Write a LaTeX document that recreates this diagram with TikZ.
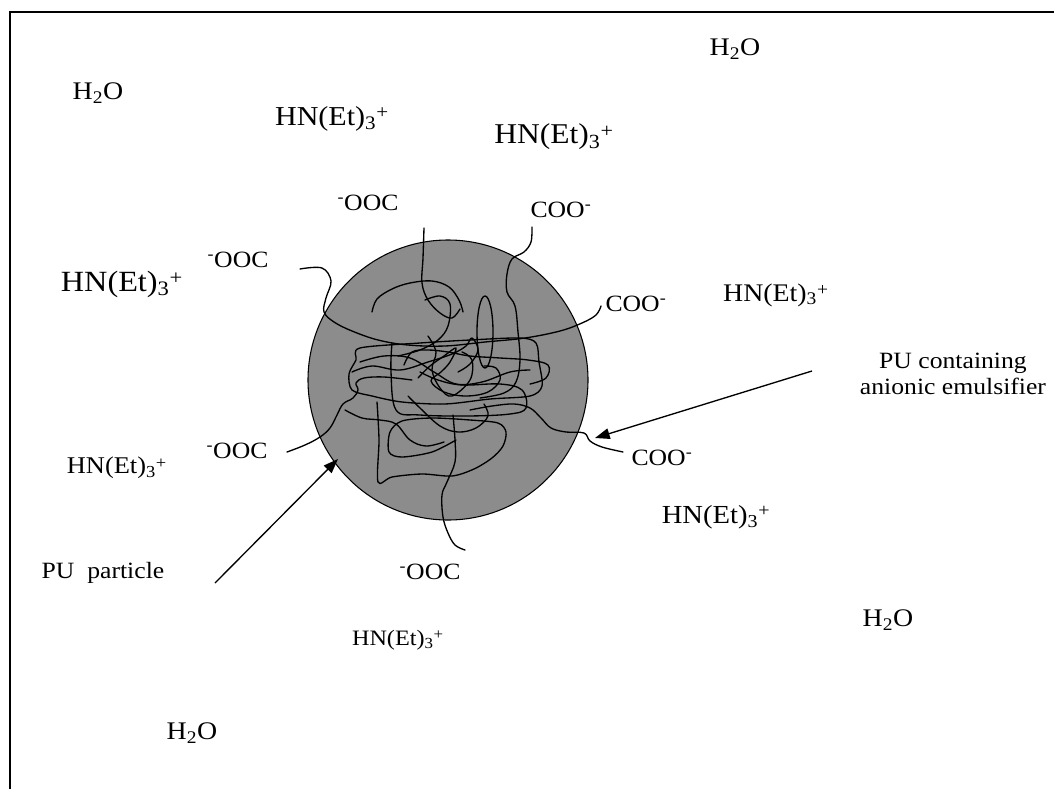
\documentclass[tikz,border=0pt]{standalone}
\usepackage{fontspec}
\setmainfont[FakeStretch=1.1]{Liberation Serif}
\usetikzlibrary{arrows.meta}
\newcommand{\setfs}[1]{\fontsize{#1}{#1}\selectfont}
\newcommand{\amine}{HN(Et)\textsubscript{3}\raisebox{-0.12em}{\textsuperscript{+}}}
\newcommand{\water}{H\textsubscript{2}O}
\newcommand{\carbL}{\textsuperscript{-}OOC}
\newcommand{\carbR}{COO\textsuperscript{-}}
\tikzset{
  lbl/.style={inner sep=0pt, anchor=center, text=black},
  chain/.style={line width=1pt, line join=round, line cap=round},
  pointer/.style={line width=1pt, -{Triangle[length=11pt,width=8pt]}},
  frame/.style={line width=1.3pt},
}
\begin{document}
\begin{tikzpicture}[x=0.75pt,y=-0.75pt]
\useasboundingbox (0,0) rectangle (1054,789);
% frame (top and left edges)
\draw[frame] (10,789) -- (10,12) -- (1054,12);

% the particle
\node (particle) [circle, draw=black, line width=0.8pt, fill={rgb,255:red,140;green,140;blue,140},
  minimum size=210pt, inner sep=0pt] at (448,380) {};

% emulsifier chains leaving the particle
\draw[chain] plot[smooth, tension=0.6] coordinates {(300,269) (322,268) (331,281) (326,298) (324,312) (334,322) (352,331) (378,340) (408,345) (445,346) (485,342) (525,338) (560,331) (582,323) (596,315) (601,306)};
\draw[chain] plot[smooth, tension=0.6] coordinates {(424,228) (423,258) (422,283) (428,300) (440,313) (452,318) (460,309)};
\draw[chain] plot[smooth, tension=0.6] coordinates {(532,227) (531,242) (524,252) (512,259) (507,274) (507,292) (515,306) (518,332) (520,360) (516,382) (504,393) (480,398)};
\draw[chain] plot[smooth, tension=0.6] coordinates {(623,452) (602,447) (590,441) (584,433) (566,432) (551,428) (541,418) (530,408) (514,404) (492,406) (470,410)};
\draw[chain] plot[smooth, tension=0.6] coordinates {(287,452) (305,445) (320,437) (330,428) (337,415) (343,404) (353,398) (358,390) (356,383) (364,378) (384,377) (412,380)};
\draw[chain] plot[smooth, tension=0.6] coordinates {(465,550) (455,545) (448,533) (443,517) (442,495) (447,482) (455,462) (455,440) (453,415)};

% coiled backbone inside the particle
\draw[chain] plot[smooth, tension=0.6] coordinates {(372,312) (377,299) (392,289) (410,283) (432,281) (449,287) (459,300) (463,312)};
\draw[chain] (485,332) ellipse[x radius=8, y radius=36];
\draw[chain] plot[smooth cycle, tension=0.5] coordinates {(360,348) (420,343) (470,340) (520,338) (536,343) (539,362) (542,386) (530,396) (490,399) (445,404) (402,402) (372,396) (352,390) (349,374) (356,360)};
\draw[chain] plot[smooth, tension=0.6] coordinates {(352,372) (372,366) (400,370) (428,362) (452,354) (466,346) (472,338) (478,350) (470,364) (458,372)};
\draw[chain] plot[smooth, tension=0.6] coordinates {(392,343) (391,372) (396,410) (420,415) (468,416) (510,414) (526,408) (522,390) (500,384) (462,385) (438,380) (420,372)};
\draw[chain] plot[smooth, tension=0.5] coordinates {(377,402) (379,440) (378,482) (392,477) (422,474) (452,476) (474,469) (492,458) (503,446) (506,432) (498,423) (470,420) (432,418) (402,421) (390,432) (389,452) (402,457) (432,452) (456,440)};
\draw[chain] plot[smooth, tension=0.6] coordinates {(418,378) (430,366) (444,356) (456,348) (450,362) (441,372) (431,381) (444,392) (466,396) (488,392) (500,380) (496,368) (484,366)};
\draw[chain] plot[smooth, tension=0.6] coordinates {(404,365) (412,352) (428,350) (448,352) (470,356) (500,358) (528,360) (548,365) (546,378) (530,384)};
\draw[chain] plot[smooth, tension=0.6] coordinates {(408,396) (420,408) (440,426) (458,432) (476,428) (488,416) (484,404)};
\draw[chain] plot[smooth, tension=0.6] coordinates {(345,410) (362,418) (380,420) (396,424) (410,440) (426,446) (444,442)};
\draw[chain] plot[smooth, tension=0.6] coordinates {(428,336) (436,352) (432,370) (440,388) (452,396) (470,380) (472,360) (462,352)};
\draw[chain] plot[smooth, tension=0.6] coordinates {(360,362) (384,356) (410,358) (434,372) (456,384) (482,382) (510,372) (530,370)};
\draw[chain] plot[smooth, tension=0.6] coordinates {(425,300) (440,296) (450,304) (448,326) (438,340) (420,350) (398,356)};

% counter-ions and water
\node[lbl, font=\setfs{19}] (w1) at (98,93) {\water};
\node[lbl, font=\setfs{19}] (w2) at (735,49) {\water};
\node[lbl, font=\setfs{19}] (w3) at (888,620) {\water};
\node[lbl, font=\setfs{19}] (w4) at (192,733) {\water};
\node[lbl, font=\setfs{20.5}] (a1) at (332,119) {\amine};
\node[lbl, font=\setfs{21.5}] (a2) at (554,137) {\amine};
\node[lbl, font=\setfs{22}] (a3) at (122,284) {\amine};
\node[lbl, font=\setfs{19}] (a4) at (776,295) {\amine};
\node[lbl, font=\setfs{18}] (a5) at (117,468) {\amine};
\node[lbl, font=\setfs{19.5}] (a6) at (716,517) {\amine};
\node[lbl, font=\setfs{16.5}] (a7) at (398,640) {\amine};

% carboxylate end groups
\node[lbl, font=\setfs{17.5}] (c1) at (368,203) {\carbL};
\node[lbl, font=\setfs{17.5}] (c2) at (561,210) {\carbR};
\node[lbl, font=\setfs{17.5}] (c3) at (238,260) {\carbL};
\node[lbl, font=\setfs{17.5}] (c4) at (636,304) {\carbR};
\node[lbl, font=\setfs{17.5}] (c5) at (237,451) {\carbL};
\node[lbl, font=\setfs{17.5}] (c6) at (662,458) {\carbR};
\node[lbl, font=\setfs{17.5}] (c7) at (430,572) {\carbL};

% captions and pointers
\node[lbl, font=\setfs{17.5}, align=center] (cap1) at (953,374) {PU containing\\[2pt]anionic emulsifier};
\node[lbl, font=\setfs{17.5}] (cap2) at (103,573) {PU\ \ particle};
\coordinate (p1s) at (215,583);
\coordinate (p1e) at (338,459);
\coordinate (p2s) at (812,371);
\coordinate (p2e) at (595,438);
\draw[pointer] (p1s) -- (p1e);
\draw[pointer] (p2s) -- (p2e);
\end{tikzpicture}
\end{document}
